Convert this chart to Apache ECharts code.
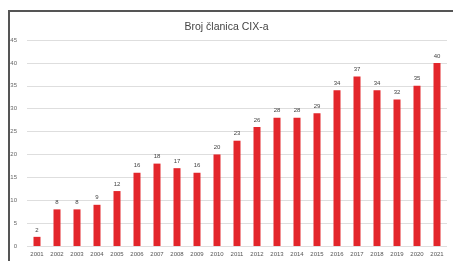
<!DOCTYPE html>
<html>
<head>
<meta charset="utf-8">
<script src="https://cdn.jsdelivr.net/npm/echarts@6/dist/echarts.min.js"></script>
<style>
  html, body { margin: 0; padding: 0; background: #fff; }
  #main { width: 453px; height: 261px; }
</style>
</head>
<body>
<div id="main"></div>
<script>
// godine i broj clanica
var years = ['2001', '2002', '2003', '2004', '2005', '2006', '2007', '2008', '2009', '2010', '2011',
    '2012', '2013', '2014', '2015', '2016', '2017', '2018', '2019', '2020', '2021'];
var members = [2, 8, 8, 9, 12, 16, 18, 17, 16, 20, 23, 26, 28, 28, 29, 34, 37, 34, 32, 35, 40];

var chart = echarts.init(document.getElementById('main'));

chart.setOption({
    animation: false,
    title: {
        text: 'Broj članica CIX-a',
        left: 'center',
        top: 17,
        textStyle: {fontSize: 10.5, fontWeight: 'normal', color: '#444', fontFamily: 'Liberation Sans'}
    },
    //okvir slike
    graphic: [
        {type: 'rect', shape: {x: 8, y: 10, width: 460, height: 2}, style: {fill: '#555'}},
        {type: 'rect', shape: {x: 8, y: 10, width: 2, height: 260}, style: {fill: '#555'}}
    ],
    grid: {left: 27, right: 6, top: 40, bottom: 15, containLabel: false},
    xAxis: {
        type: 'category',
        data: years,
        axisLine: {show: false},
        axisTick: {show: false},
        axisLabel: {fontSize: 6, color: '#555', margin: 5, interval: 0, fontFamily: 'Liberation Sans'}
    },
    yAxis: {
        type: 'value',
        min: 0,
        max: 45,
        interval: 5,
        axisLine: {show: false},
        axisTick: {show: false},
        axisLabel: {fontSize: 6, color: '#666', margin: 10, fontFamily: 'Liberation Sans'},
        splitLine: {lineStyle: {color: '#dedede', width: 1}}
    },
    series: [{
        type: 'bar',
        data: members,
        barWidth: 7,
        itemStyle: {color: '#e3262b'},
        label: {
            show: true,
            position: 'top',
            distance: 4,
            fontSize: 6,
            color: '#444',
            fontFamily: 'Liberation Sans'
        }
    }]
});
</script>
</body>
</html>
